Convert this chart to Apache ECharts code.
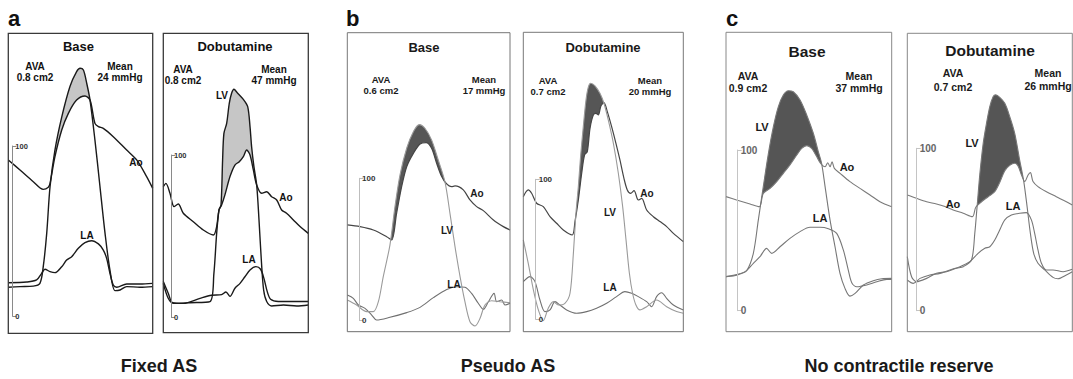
<!DOCTYPE html>
<html>
<head>
<meta charset="utf-8">
<script src="https://cdn.jsdelivr.net/npm/echarts/dist/echarts.min.js"></script>
<style>
  html, body { margin: 0; padding: 0; background: #fff; }
  #chart { width: 1073px; height: 379px; }
</style>
</head>
<body>
<div id="chart"></div>
<script>
"use strict";

// pressure tracings: [time (% of window), pressure (mmHg)]
var aBaseLV = [[0,16.9],[8.1,17.3],[17.3,17.6],[21.9,19.2],[24.2,29],[26.6,48.6],[28.9,76],[32.3,97.6],[37,117],[42.7,135],[47.3,143.7],[49.7,145.7],[52,144.7],[54.3,136.9],[56.6,127],[60,103.5],[63.5,76],[67,48.6],[70.4,27],[73.9,14.9],[77.4,15.3],[82,17.3],[91.2,16.9],[100,17.3]];
var aBaseAo = [[0,91.8],[8.1,85.9],[17.3,79],[24.2,74.5],[27.7,75.7],[28.9,78],[32.3,93.7],[37,109.4],[41.6,119.2],[47.3,127],[53.1,129.4],[56.6,127],[60,113.3],[62.4,111.4],[65.8,110.4],[72.7,105.5],[82,97.6],[88.9,91.8],[95.8,82],[100,75.1]];
var aBaseLA = [[0,19.6],[12.7,20],[19.6,21.2],[23.1,25.1],[25.4,27.5],[28.9,26.1],[32.3,25.5],[37,29],[40.4,32.9],[43.9,34.9],[48.5,39.8],[53.1,43.1],[57.7,44.3],[62.4,42.4],[65.8,38.8],[68.1,33.9],[70.4,25.1],[72.7,18.2],[75.1,16.9],[82,18.8],[91.2,18.8],[100,19.2]];

var aDobLV = [[0,20.9],[3.4,11.7],[6.9,8.6],[18.4,9],[32.2,9.7],[34.9,27.1],[36.8,51.7],[38.4,66.1],[39.8,69.2],[40.9,96.9],[41.8,113.3],[43.7,119.5],[45.5,131.8],[47.1,138],[48.7,140.5],[51,138.4],[55.2,134.3],[58.2,129.8],[59.8,117.5],[60.9,105.1],[62.5,92.8],[64.4,81.5],[66,60],[67.6,35.3],[69.2,16.8],[71.3,9.7],[74.7,7],[82.8,7.6],[92,7],[100,7.6]];
var aDobAo = [[0,80.5],[1.8,82.5],[4.6,76.4],[7.4,68.2],[10.3,69.8],[13.8,64.1],[20.7,58.9],[27.6,53.8],[34.5,50.7],[36.8,55.9],[38.4,66.1],[40.2,69.2],[42.5,75.4],[46,86.7],[49.4,93.8],[52.4,95.9],[55.2,99],[57.5,103.1],[59.8,100],[62.1,90.8],[64.4,81.5],[67.8,76.4],[71.3,77.4],[74.7,74.3],[78.2,72.3],[81.6,66.1],[85,64.1],[89.7,60],[94.3,55.9],[100,51.7]];
var aDobLA = [[0,22],[3.4,14.8],[6.4,9],[13.8,8.6],[25.3,11.7],[33.3,13.6],[40.2,14],[43.2,15.6],[46,12.9],[49.4,17.9],[52.9,20.9],[56.3,25],[59.8,29.2],[63.9,31.2],[67.1,29.6],[69.4,24],[71.7,15.8],[74,11.1],[79.3,9.7],[89.7,9.7],[100,9.7]];

var bBaseLV = [[0,14.1],[5.7,10.6],[11.9,5.9],[16,5.9],[19.1,12.9],[22.1,30.6],[26.2,52.9],[29.3,80],[32.4,102.4],[36.5,121.2],[40.6,132.9],[44.3,137.9],[47.7,135.3],[51.8,127.1],[55.9,112.9],[60,97.6],[63.1,75.3],[66.2,51.8],[69.3,30.6],[72.3,12.9],[75.4,-1.2],[78.5,-4.2],[81.6,1.2],[84.6,10.6],[88.7,13.6],[93.9,12.9],[100,12.2]];
var bBaseAo = [[0,67.1],[7.8,65.9],[16,63.5],[24.2,58.8],[27.3,56.5],[30.3,75.3],[33.4,94.1],[36.5,108.2],[40.6,117.6],[44.7,124.2],[48.4,125.2],[51.8,121.2],[54.9,110.6],[58,101.2],[60.7,96.5],[64.1,94.1],[66.2,94.6],[71.3,91.8],[75.4,84.7],[79.5,80],[83.6,77.2],[89.8,70.6],[95.9,65.9],[100,63.5]];
var bBaseLA = [[0,17.6],[3.7,15.3],[6.8,10.6],[10.9,8.2],[15,3.5],[18,0],[26.2,1.9],[36.5,5.2],[44.7,8.9],[52.9,15.8],[61.1,21.6],[67.2,23.5],[72.3,23.1],[76.4,18.8],[80.5,11.8],[83.6,7.5],[86.7,12.9],[90.2,18.8],[91.8,12.9],[94.9,14.1],[96.9,10.6],[100,11.8]];

var bDobLV = [[0,56.7],[3.1,40],[6.3,21],[9.4,6.7],[12.5,-1],[15.6,7.9],[18.8,12.6],[21.9,10.2],[26,11.4],[29.2,18.6],[31.3,47.1],[32.9,75.7],[34.4,94.8],[35.8,116.2],[37.5,137.6],[39.2,156.7],[40.6,165.7],[42.1,168.6],[44.8,166.7],[47.9,161.4],[50.4,154.3],[53.1,142.4],[56.3,125.7],[59.4,104.3],[62.1,80.5],[64.2,56.7],[66.3,32.9],[68.3,18.6],[70.4,10.2],[72.9,6.7],[77.1,9],[83.3,13.8],[89.6,9],[95.8,5.5],[100,4.3]];
var bDobAo = [[0,87.6],[3.1,92.4],[5.2,90],[8.3,82.9],[12.5,80.5],[16.7,73.3],[20.8,68.6],[25,63.8],[30.6,60.2],[32.3,69.8],[34.4,85.2],[36.5,104.3],[38.3,117.4],[40,119.8],[41.7,136.4],[43.8,146],[45.4,147.1],[46.9,146],[48.5,152.4],[50.4,154.8],[52.5,148.3],[55.2,137.6],[57.9,125.7],[60.4,113.8],[62.9,100.7],[65,92.4],[67.1,90],[69.2,91.9],[71.9,85.2],[74,86.4],[77.1,78.1],[81.3,73.3],[85.4,69.8],[89.6,66.2],[93.8,61.4],[100,55.5]];
var bDobLA = [[0,26.9],[4.2,30.5],[7.3,26.9],[10.4,13.8],[13.5,5.5],[16.7,6.7],[19.8,12.6],[22.9,10.2],[27.1,6.7],[33.3,4.3],[39.6,5.5],[45.8,7.9],[52.1,11.4],[58.3,16.2],[63.5,19.8],[67.7,18.6],[71.9,16.2],[77.1,12.6],[80.2,9],[83.3,16.2],[86.5,19],[89.6,15],[93.8,10.2],[100,6.7]];

var cBaseLV = [[0,21.2],[4.4,21.6],[8.5,22.8],[12.5,24.9],[16.5,35.7],[19.5,56.4],[22.5,77.2],[25.6,97.9],[28.6,114.5],[31.6,127],[34.6,134.2],[37.6,136.9],[40.6,136.3],[44.7,131.1],[48.7,121.8],[52.7,110.4],[55.7,99],[57.7,91.7],[59.8,77.2],[62.8,56.4],[65.8,39.8],[68.8,23.2],[71.8,13.9],[74.8,9.1],[77.9,10.8],[82.9,16],[88.9,18.7],[94,19.9],[100,20.1]];
var cBaseAo = [[0,71],[6.4,68.9],[14.5,66.4],[20.1,64.7],[22.5,73],[26.6,76.1],[30.6,80.3],[34.6,85.5],[38.6,90.7],[42.7,96.9],[45.7,101],[48.7,102.7],[51.7,101],[54.7,95.9],[57.1,91.7],[59.8,89.6],[61.4,92.1],[62.8,89.6],[64,92.7],[65.4,88.6],[68.8,85.5],[74.8,80.3],[80.9,76.1],[86.9,72],[92.9,67.8],[100,64.7]];
var cBaseLA = [[0,21.2],[4.4,22],[11.5,24.3],[16.5,29.5],[20.5,33.6],[24.5,38.8],[27.6,35.7],[32.6,39.8],[38.6,45],[44.7,49.2],[50.7,51.9],[56.7,51.9],[61.8,51],[66.8,48.1],[70.8,37.8],[73.8,25.3],[75.9,17.4],[78.9,14.9],[84.9,16],[91,18],[97,19.5],[100,19.5]];

var cDobLV = [[0,33.3],[2.6,20.9],[5.6,17.9],[11.7,19.9],[17.7,23],[23.8,24],[29.8,26.1],[33.9,27.1],[38.9,31.2],[40.9,47.6],[42.3,64.1],[44,84.6],[46,103.1],[48,115.4],[50,125.7],[52,131.8],[53.6,132.9],[56,131.4],[59.1,127.7],[62.1,119.5],[65.1,109.2],[68.1,92.8],[70.6,79.5],[72.6,64.1],[74.6,47.6],[76.6,35.3],[79.2,29.2],[83.3,25.1],[88.3,20.5],[91.3,19.7],[96.4,22],[100,24]];
var cDobAo = [[0,71.3],[5.6,69.2],[11.7,67.1],[17.7,65.7],[22.8,64.1],[27.8,62],[33.9,60],[39.5,57.9],[41.5,63.7],[45,67.1],[49,70.2],[53,73.3],[56,78.9],[59.1,86.2],[62.1,89.5],[65.1,90.8],[67.1,89.1],[69.2,83.6],[71.2,79.5],[73.2,83.6],[74.6,85],[76.2,79.5],[79.2,76.4],[84.3,73.3],[90.3,70.2],[96.4,67.1],[100,65.1]];
var cDobLA = [[0,18.9],[3.6,16.8],[7.7,19.9],[13.7,22],[19.8,23],[25.8,25.1],[31.9,27.1],[37.9,30.2],[42.9,35.3],[47,38.4],[50,39.4],[53,43.5],[56,49.7],[59.1,55.9],[63.1,58.9],[68.1,60],[72.2,60.4],[75.2,55.9],[77.2,47.6],[79.2,37.4],[81.3,29.2],[84.3,25.1],[88.3,25.1],[94.4,24],[100,25.5]];

var panelTitles = ['Base', 'Dobutamine', 'Base', 'Dobutamine', 'Base', 'Dobutamine'];
var avaValues = ['0.8', '0.8', '0.6', '0.7', '0.9', '0.7'];
var meanGradients = [24, 47, 17, 20, 37, 26];
var groupLetters = ['a', 'b', 'c'];
var groupCaptions = ['Fixed AS', 'Pseudo AS', 'No contractile reserve'];
var scaleTicks = [0, 100];

var FONT = '"Liberation Sans", Arial, sans-serif';

// look of each group of two panels
var styles = [
  { border: '#3a3a3a', borderW: 1.3, lv: '#1a1a1a', ao: '#1a1a1a', la: '#1a1a1a', lvW: 1.4, aoW: 1.4, laW: 1.4,
    shade: '#c6c6c6', bar: '#8a8a8a', barText: '#333', barFont: 7.5, titleFont: 13, infoFont: 10, labelFont: 10, text: '#111' },
  { border: '#777', borderW: 1, lv: '#9a9a9a', ao: '#454545', la: '#707070', lvW: 1.1, aoW: 1.2, laW: 1.1,
    shade: '#565656', bar: '#bdbdbd', barText: '#333', barFont: 8, titleFont: 13, infoFont: 9.5, labelFont: 10, text: '#1a1a1a' },
  { border: '#888', borderW: 1, lv: '#777', ao: '#7a7a7a', la: '#777', lvW: 1.1, aoW: 1.1, laW: 1.1,
    shade: '#555', bar: '#c4c4c4', barText: '#666', barFont: 10, titleFont: 15.5, infoFont: 10.5, labelFont: 11, text: '#1a1a1a' }
];

// layout of each panel in page pixels
var panels = [
  { g: 0, box: [8.3, 33.3, 152.7, 333.3], zeroY: 316, hundredY: 146, scaleX: 13.3, lv: aBaseLV, ao: aBaseAo, la: aBaseLA,
    title: [78.5, 46], ava: [35, 66, 77], mean: [120, 66, 77], labels: { Ao: [136, 162], LA: [87, 235] } },
  { g: 0, box: [163.3, 33.3, 308.3, 332.7], zeroY: 317.3, hundredY: 155, scaleX: 172, lv: aDobLV, ao: aDobAo, la: aDobLA,
    title: [235, 46], ava: [183, 69, 80], mean: [274, 69, 80], labels: { LV: [222, 95], Ao: [286, 197], LA: [249, 259] } },
  { g: 1, box: [347.3, 32.7, 510, 331.7], zeroY: 320, hundredY: 178.3, scaleX: 360, lv: bBaseLV, ao: bBaseAo, la: bBaseLA,
    title: [424, 47], ava: [381, 79.5, 90.5], mean: [484, 79.5, 90.5], labels: { Ao: [477, 193], LV: [447, 230], LA: [454, 284] } },
  { g: 1, box: [523.3, 32.3, 683.3, 331.7], zeroY: 319.3, hundredY: 179.3, scaleX: 536.7, lv: bDobLV, ao: bDobAo, la: bDobLA,
    title: [603, 47], ava: [548, 80, 91], mean: [650, 80, 91], labels: { Ao: [647, 193], LV: [610, 212], LA: [610, 287] } },
  { g: 2, box: [726, 32.3, 891.7, 331.7], zeroY: 310.7, hundredY: 150, scaleX: 738.7, lv: cBaseLV, ao: cBaseAo, la: cBaseLA,
    title: [807, 51], ava: [748, 76, 88], mean: [859, 76, 88], labels: { LV: [762, 127], Ao: [847, 167], LA: [820, 218] } },
  { g: 2, box: [907.3, 33.3, 1072.3, 331.7], zeroY: 310.7, hundredY: 148.3, scaleX: 917.7, lv: cDobLV, ao: cDobAo, la: cDobLA,
    title: [990, 50], ava: [953, 73, 87], mean: [1048, 73, 86], labels: { LV: [972, 143], Ao: [953, 204], LA: [1013, 206] } }
];

var letterPos = [[8, 18], [346, 18], [726, 18]];
var captionPos = [[159, 366], [508, 366], [899, 366]];

function text(str, x, y, size, color, weight) {
  return {
    type: 'text', x: x, y: y, z: 110, silent: true,
    style: { text: str, font: (weight || 'bold') + ' ' + size + 'px ' + FONT, fill: color,
      textAlign: 'center', textVerticalAlign: 'middle' }
  };
}

var grids = [], xAxes = [], yAxes = [], series = [], graphics = [];
var n = panels.length;

panels.forEach(function (p, i) {
  var st = styles[p.g];
  var L = p.box[0], T = p.box[1], R = p.box[2], B = p.box[3];
  var s = (p.zeroY - p.hundredY) / 100;

  grids.push({ left: L, top: T, width: R - L, height: B - T });
  xAxes.push({ gridIndex: i, type: 'value', min: 0, max: 100, show: false });
  yAxes.push({ gridIndex: i, type: 'value', min: (p.zeroY - B) / s, max: (p.zeroY - T) / s, show: false });

  // gradient area: gray under LV, covered in white under Ao
  series.push({ type: 'line', xAxisIndex: i, yAxisIndex: i, data: p.lv, smooth: 0.3, symbol: 'none', silent: true, z: 1,
    lineStyle: { width: 0 }, areaStyle: { color: st.shade, opacity: 1, origin: 'start' } });
  series.push({ type: 'line', xAxisIndex: i, yAxisIndex: i, data: p.ao, smooth: 0.3, symbol: 'none', silent: true, z: 2,
    lineStyle: { width: 0 }, areaStyle: { color: '#fff', opacity: 1, origin: 'start' } });

  [['LA', p.la, st.la, st.laW], ['Ao', p.ao, st.ao, st.aoW], ['LV', p.lv, st.lv, st.lvW]].forEach(function (c) {
    series.push({ type: 'line', name: c[0], xAxisIndex: i, yAxisIndex: i, data: c[1], smooth: 0.3, symbol: 'none', z: 3,
      lineStyle: { color: c[2], width: c[3] } });
  });

  graphics.push({ type: 'rect', z: 100, silent: true, shape: { x: L, y: T, width: R - L, height: B - T },
    style: { fill: 'none', stroke: st.border, lineWidth: st.borderW } });

  graphics.push(text(panelTitles[i], p.title[0], p.title[1], st.titleFont, st.text));
  graphics.push(text('AVA', p.ava[0], p.ava[1], st.infoFont, st.text));
  graphics.push(text(avaValues[i] + ' cm2', p.ava[0], p.ava[2], st.infoFont, st.text));
  graphics.push(text('Mean', p.mean[0], p.mean[1], st.infoFont, st.text));
  graphics.push(text(meanGradients[i] + ' mmHg', p.mean[0], p.mean[2], st.infoFont, st.text));
  Object.keys(p.labels).forEach(function (k) {
    graphics.push(text(k, p.labels[k][0], p.labels[k][1], st.labelFont, st.text));
  });
});

// 0-100 mmHg calibration bars
panels.forEach(function (p, i) {
  var st = styles[p.g];
  var gi = n + i;
  grids.push({ left: p.scaleX - 1, top: p.hundredY, width: 1, height: p.zeroY - p.hundredY });
  xAxes.push({ gridIndex: gi, type: 'value', min: 0, max: 1, show: false });
  yAxes.push({
    gridIndex: gi, type: 'value', position: 'right', z: 5,
    min: scaleTicks[0], max: scaleTicks[1], interval: scaleTicks[1] - scaleTicks[0],
    axisLine: { show: true, lineStyle: { color: st.bar, width: 1 } },
    axisTick: { show: true, length: 4, lineStyle: { color: st.bar, width: 1 } },
    axisLabel: { margin: 2, fontSize: st.barFont, fontWeight: 'bold', color: st.barText, fontFamily: FONT },
    splitLine: { show: false }
  });
});

groupLetters.forEach(function (l, k) {
  graphics.push({ type: 'text', x: letterPos[k][0], y: letterPos[k][1], z: 110, silent: true,
    style: { text: l, font: 'bold 22px ' + FONT, fill: '#111', textAlign: 'left', textVerticalAlign: 'middle' } });
  graphics.push(text(groupCaptions[k], captionPos[k][0], captionPos[k][1], 18, '#1a1a1a'));
});

var myChart = echarts.init(document.getElementById('chart'), null, { renderer: 'svg' });
myChart.setOption({
  animation: false,
  backgroundColor: '#fff',
  grid: grids,
  xAxis: xAxes,
  yAxis: yAxes,
  series: series,
  graphic: graphics
});
</script>
</body>
</html>
